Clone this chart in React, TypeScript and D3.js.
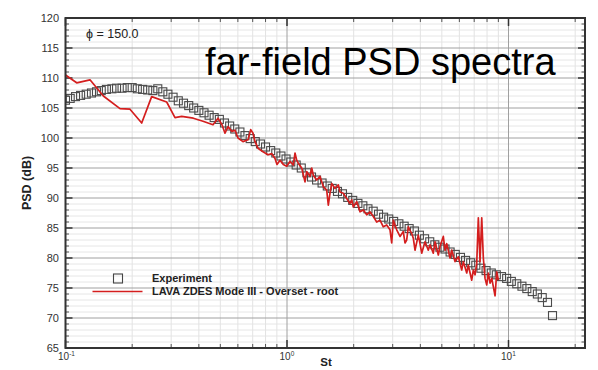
import React from 'react';
import * as d3 from 'd3';

// ---------- data ----------
const expSt = [
  0.100, 0.105, 0.111, 0.117, 0.124, 0.131, 0.138, 0.145, 0.153, 0.162, 0.170, 0.180, 0.190,
  0.200, 0.211, 0.223, 0.235, 0.248, 0.261, 0.275, 0.290, 0.306, 0.323, 0.341, 0.360, 0.379,
  0.400, 0.422, 0.445, 0.469, 0.495, 0.522, 0.551, 0.581, 0.613, 0.646, 0.682, 0.719, 0.759,
  0.800, 0.844, 0.890, 0.939, 0.990, 1.04, 1.10, 1.16, 1.23, 1.29, 1.36, 1.44, 1.52,
  1.60, 1.69, 1.78, 1.88, 1.98, 2.09, 2.20, 2.32, 2.45, 2.59, 2.73, 2.88, 3.03,
  3.20, 3.38, 3.56, 3.76, 3.96, 4.18, 4.41, 4.65, 4.90, 5.17, 5.45, 5.75, 6.07,
  6.40, 6.75, 7.12, 7.51, 7.92, 8.36, 8.81, 9.30, 9.81, 10.3, 10.9, 11.5, 12.1,
  12.8, 13.5, 14.2, 15.0, 15.8,
];
const expPsd = [
  106.3, 106.6, 106.9, 107.1, 107.3, 107.5, 107.7, 107.9, 108.1, 108.2, 108.3, 108.3, 108.4,
  108.4, 108.2, 108.1, 108.0, 107.9, 108.2, 107.7, 107.3, 106.8, 106.2, 105.8, 105.4, 105.0,
  104.6, 104.2, 103.8, 103.4, 103.1, 102.5, 102.0, 101.5, 101.0, 100.4, 99.9, 99.4, 99.0,
  98.5, 97.9, 97.5, 97.0, 96.5, 96.0, 95.5, 95.0, 94.2, 93.5, 93.0, 92.5, 92.0,
  91.6, 91.1, 90.7, 90.1, 89.6, 89.1, 88.7, 88.2, 87.8, 87.3, 86.8, 86.5, 86.1,
  85.7, 85.3, 84.9, 84.5, 83.8, 83.2, 82.7, 82.2, 81.8, 81.5, 81.0, 80.6, 80.1,
  79.6, 79.2, 78.8, 78.3, 77.9, 77.5, 77.2, 76.9, 76.6, 76.1, 75.7, 75.3, 74.9,
  74.4, 74.0, 73.4, 72.6, 70.4,
];

const lavaSt = [
  0.100, 0.1123, 0.1290, 0.1482, 0.1762, 0.1955, 0.2208, 0.2449, 0.2863, 0.3121,
  0.3346, 0.3776, 0.4176, 0.4633, 0.4881, 0.5087, 0.5249, 0.5415, 0.5644, 0.5823,
  0.6009, 0.6328, 0.6668, 0.6857, 0.7024, 0.7171, 0.7396, 0.7793, 0.8208, 0.8530,
  0.8827, 0.9013, 0.9298, 0.9623, 0.9968, 1.0316, 1.0678, 1.0867, 1.1060, 1.1245,
  1.1653, 1.2058, 1.2272, 1.2701, 1.2929, 1.3146, 1.3618, 1.4093, 1.4586, 1.5110,
  1.5365, 1.5637, 1.5917, 1.6472, 1.7047, 1.7351, 1.7957, 1.8601, 1.9250, 1.9594,
  1.9923, 2.0643, 2.1363, 2.2109, 2.2903, 2.3701, 2.4528, 2.5410, 2.6297, 2.7215,
  2.8192, 2.9175, 2.9697, 3.0194, 3.1281, 3.2373, 3.3503, 3.4096, 3.4705, 3.5286,
  3.5918, 3.6560, 3.7172, 3.7837, 3.8514, 3.9158, 3.9858, 4.0563, 4.1979, 4.3444,
  4.4221, 4.5764, 4.6583, 4.8217, 4.9068, 5.0782, 5.1691, 5.2607, 5.4446, 5.5419,
  5.7354, 5.9356, 6.1486, 6.2515, 6.4772, 6.5856, 6.8230, 6.9374, 7.0620, 7.1867,
  7.3084, 7.4381, 7.5713, 7.6982, 7.8360, 7.9762, 8.1099, 8.2551, 8.4028, 8.6960,
  8.8495, 8.9991,
];
const lavaPsd = [
  110.5, 109.2, 109.7, 107.0, 104.9, 104.8, 102.5, 106.9, 106.0, 103.4,
  103.6, 103.3, 102.8, 102.2, 103.3, 102.2, 100.8, 101.9, 101.1, 101.3,
  100.0, 99.4, 99.7, 101.4, 100.8, 99.4, 98.3, 97.7, 97.2, 97.4,
  96.6, 95.6, 96.3, 95.6, 95.3, 96.1, 95.5, 97.5, 96.3, 95.8,
  95.0, 92.7, 94.4, 93.6, 95.0, 93.8, 93.0, 93.6, 91.9, 91.3,
  88.8, 90.8, 92.4, 91.6, 92.2, 91.0, 90.8, 89.9, 89.1, 89.7,
  88.5, 89.4, 87.7, 88.0, 87.2, 87.7, 86.9, 86.0, 86.3, 85.2,
  85.5, 84.7, 82.5, 86.3, 84.7, 83.6, 84.4, 82.5, 83.0, 85.2,
  84.6, 84.1, 83.3, 81.3, 82.6, 83.8, 82.4, 80.8, 82.7, 81.3,
  82.2, 80.8, 82.7, 80.5, 81.9, 83.6, 81.3, 82.4, 80.0, 81.3,
  79.4, 80.2, 78.0, 79.4, 77.5, 78.8, 76.3, 78.0, 77.2, 79.1,
  86.7, 79.4, 86.7, 80.0, 76.6, 75.5, 77.5, 75.8, 76.6, 73.7,
  77.7, 76.3,
];

const yMajorTicks = [65, 70, 75, 80, 85, 90, 95, 100, 105, 110, 115, 120];
const xMajorTicks = [0.1, 1, 10];
const xTickExponents = ['-1', '0', '1'];
const xMinorTicks = [0.2, 0.3, 0.4, 0.5, 0.6, 0.7, 0.8, 0.9, 2, 3, 4, 5, 6, 7, 8, 9, 20];

const legendLabels = ['Experiment', 'LAVA ZDES Mode III - Overset - root'];

// ---------- layout ----------
const W = 598, H = 370;
const L = 65.5, R = 585, T = 18, B = 348;
const x = d3.scaleLog().domain([0.1, 10]).range([65.5, 508.5]);
const y = d3.scaleLinear().domain([65, 120]).range([B, T]);
const yMinor = d3.range(66, 120).filter((v) => v % 5 !== 0);

const FONT = '"Liberation Sans", Arial, Helvetica, sans-serif';

export default function App() {
  const line = d3
    .line<number>()
    .x((_, i) => x(lavaSt[i]))
    .y((d) => y(d));
  const sq = 8;
  return (
    <svg
      width={W}
      height={H}
      style={{ position: 'absolute', left: 0, top: 0, background: '#fff' }}
      fontFamily={FONT}
    >
      <rect x={0} y={0} width={W} height={H} fill="#fff" />
      <defs>
        <clipPath id="plot">
          <rect x={L} y={T} width={R - L} height={B - T} />
        </clipPath>
      </defs>
      {/* minor grid */}
      {yMinor.map((v) => (
        <line key={'ym' + v} x1={L} x2={R} y1={y(v)} y2={y(v)} stroke="#e6e6e6" strokeWidth={1} />
      ))}
      {xMinorTicks.map((v) => (
        <line key={'xm' + v} x1={x(v)} x2={x(v)} y1={T} y2={B} stroke="#e3e3e3" strokeWidth={1} />
      ))}
      {/* major grid */}
      {yMajorTicks.slice(1, -1).map((v) => (
        <line key={'yM' + v} x1={L} x2={R} y1={y(v)} y2={y(v)} stroke="#a0a0a0" strokeWidth={1} />
      ))}
      {xMajorTicks.slice(1).map((v) => (
        <line key={'xM' + v} x1={x(v)} x2={x(v)} y1={T} y2={B} stroke="#a0a0a0" strokeWidth={1} />
      ))}
      {/* ticks */}
      {yMajorTicks.map((v) => (
        <g key={'yt' + v}>
          <line x1={L} x2={L + 7} y1={y(v)} y2={y(v)} stroke="#333" strokeWidth={1.5} />
          <line x1={R - 7} x2={R} y1={y(v)} y2={y(v)} stroke="#333" strokeWidth={1.5} />
        </g>
      ))}
      {yMinor.map((v) => (
        <g key={'ytm' + v}>
          <line x1={L} x2={L + 3.5} y1={y(v)} y2={y(v)} stroke="#555" strokeWidth={1} />
          <line x1={R - 3.5} x2={R} y1={y(v)} y2={y(v)} stroke="#555" strokeWidth={1} />
        </g>
      ))}
      {xMajorTicks.map((v) => (
        <g key={'xt' + v}>
          <line x1={x(v)} x2={x(v)} y1={B} y2={B - 8} stroke="#333" strokeWidth={1.5} />
          <line x1={x(v)} x2={x(v)} y1={T} y2={T + 8} stroke="#333" strokeWidth={1.5} />
        </g>
      ))}
      {xMinorTicks.map((v) => (
        <g key={'xtm' + v}>
          <line x1={x(v)} x2={x(v)} y1={B} y2={B - 4} stroke="#555" strokeWidth={1} />
          <line x1={x(v)} x2={x(v)} y1={T} y2={T + 4} stroke="#555" strokeWidth={1} />
        </g>
      ))}
      {/* experiment squares */}
      <g clipPath="url(#plot)">
        {expPsd.map((v, i) => (
          <rect
            key={'e' + i}
            x={x(expSt[i]) - sq / 2}
            y={y(v) - sq / 2}
            width={sq}
            height={sq}
            fill="none"
            stroke="#4a4a4a"
            strokeWidth={1.1}
          />
        ))}
        <path d={line(lavaPsd) || ''} fill="none" stroke="#d41e1e" strokeWidth={1.7} strokeLinejoin="round" />
      </g>
      {/* frame */}
      <rect x={L} y={T} width={R - L} height={B - T} fill="none" stroke="#333" strokeWidth={2} />
      {/* y labels */}
      {yMajorTicks.map((v) => (
        <text key={'yl' + v} x={59} y={y(v) + 4} textAnchor="end" fontSize={11} fill="#333">
          {v}
        </text>
      ))}
      {/* x labels */}
      {xMajorTicks.map((v, i) => (
        <text key={'xl' + v} x={x(v) - 7.5} y={360} fontSize={10} fill="#333">
          10
          <tspan dy={-4} fontSize={6.5}>
            {xTickExponents[i]}
          </tspan>
        </text>
      ))}
      <text x={326} y={366} textAnchor="middle" fontSize={11.5} fontWeight="bold" fill="#222">
        St
      </text>
      <text
        transform={`translate(30.5,183) rotate(-90)`}
        textAnchor="middle"
        fontSize={12.5}
        fontWeight="bold"
        fill="#222"
      >
        PSD (dB)
      </text>
      {/* phi annotation */}
      <text x={86} y={38} fontSize={12.5} fill="#222">
        ϕ  = 150.0
      </text>
      {/* big title */}
      <text x={205} y={75} fontSize={38} fill="#000">
        far-field PSD spectra
      </text>
      {/* legend */}
      <rect x={113.5} y={274} width={9} height={9} fill="none" stroke="#444" strokeWidth={1.1} />
      <line x1={92.5} x2={142.5} y1={291.5} y2={291.5} stroke="#d41e1e" strokeWidth={1.5} />
      <text x={152} y={282} fontSize={11} fontWeight="bold" fill="#222">
        {legendLabels[0]}
      </text>
      <text x={152} y={295} fontSize={11} fontWeight="bold" fill="#222">
        {legendLabels[1]}
      </text>
    </svg>
  );
}
